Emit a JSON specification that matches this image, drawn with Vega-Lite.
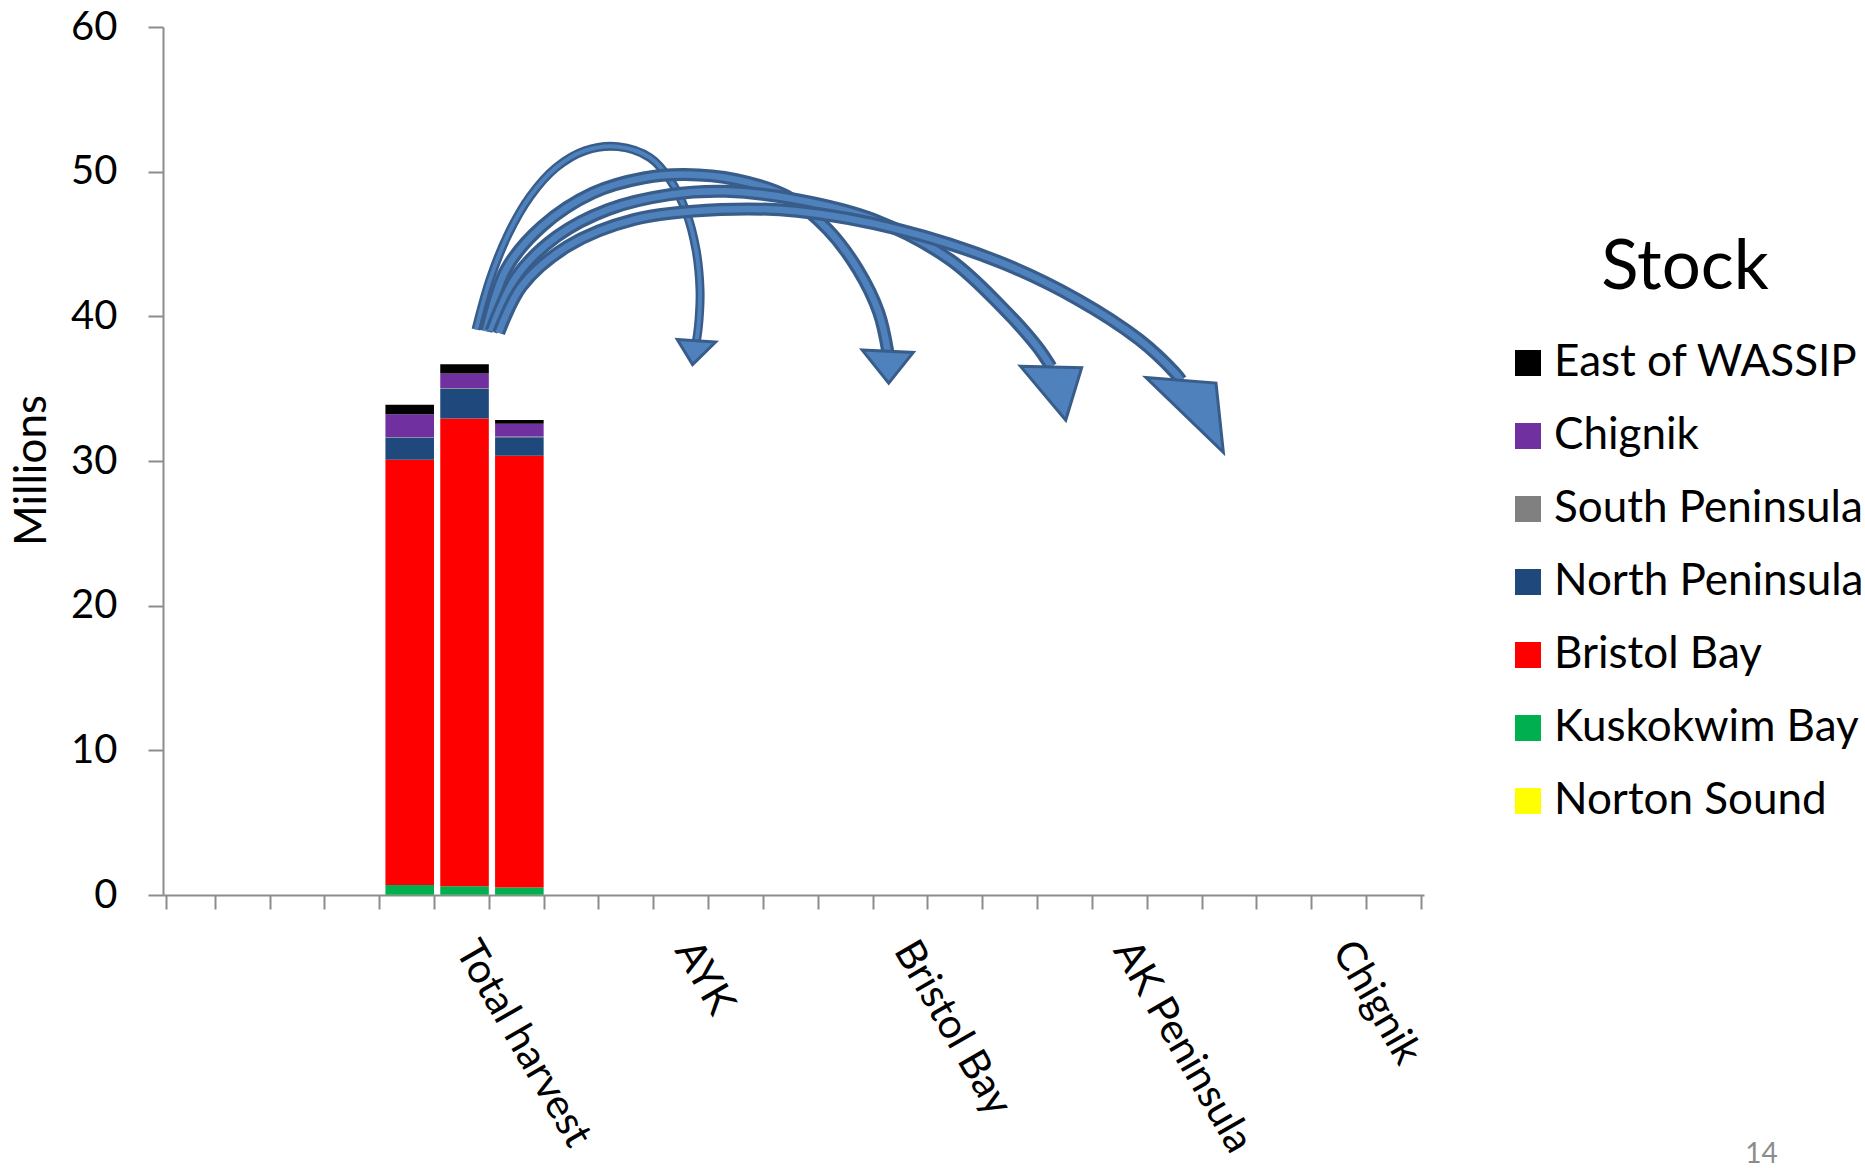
{
  "$schema": "https://vega.github.io/schema/vega-lite/v6.json",
  "width": 1261,
  "height": 868,
  "padding": {"left": 10, "top": 7, "right": 0, "bottom": 0},
  "background": "white",
  "config": {"font": "Lato", "view": {"stroke": null}, "axis": {"grid": false}},
  "datasets": {
    "harvest": [
      {"slot": "Total harvest|1", "stock": "Norton Sound", "value": 0.01},
      {"slot": "Total harvest|1", "stock": "Kuskokwim Bay", "value": 0.68},
      {"slot": "Total harvest|1", "stock": "Bristol Bay", "value": 29.39},
      {"slot": "Total harvest|1", "stock": "North Peninsula", "value": 1.52},
      {"slot": "Total harvest|1", "stock": "South Peninsula", "value": 0.05},
      {"slot": "Total harvest|1", "stock": "Chignik", "value": 1.58},
      {"slot": "Total harvest|1", "stock": "East of WASSIP", "value": 0.65},
      {"slot": "Total harvest", "stock": "Norton Sound", "value": 0.01},
      {"slot": "Total harvest", "stock": "Kuskokwim Bay", "value": 0.60},
      {"slot": "Total harvest", "stock": "Bristol Bay", "value": 32.33},
      {"slot": "Total harvest", "stock": "North Peninsula", "value": 2.05},
      {"slot": "Total harvest", "stock": "South Peninsula", "value": 0.05},
      {"slot": "Total harvest", "stock": "Chignik", "value": 1.01},
      {"slot": "Total harvest", "stock": "East of WASSIP", "value": 0.63},
      {"slot": "Total harvest|3", "stock": "Norton Sound", "value": 0.01},
      {"slot": "Total harvest|3", "stock": "Kuskokwim Bay", "value": 0.51},
      {"slot": "Total harvest|3", "stock": "Bristol Bay", "value": 29.85},
      {"slot": "Total harvest|3", "stock": "North Peninsula", "value": 1.27},
      {"slot": "Total harvest|3", "stock": "South Peninsula", "value": 0.05},
      {"slot": "Total harvest|3", "stock": "Chignik", "value": 0.88},
      {"slot": "Total harvest|3", "stock": "East of WASSIP", "value": 0.27}
    ],
    "arrows": [
      {"arrow": "AYK", "i": 0, "u": 5.709, "v": 39.09},
      {"arrow": "AYK", "i": 1, "u": 5.964, "v": 42.54},
      {"arrow": "AYK", "i": 2, "u": 6.293, "v": 45.65},
      {"arrow": "AYK", "i": 3, "u": 6.694, "v": 48.28},
      {"arrow": "AYK", "i": 4, "u": 7.168, "v": 50.28},
      {"arrow": "AYK", "i": 5, "u": 7.697, "v": 51.45},
      {"arrow": "AYK", "i": 6, "u": 8.299, "v": 51.73},
      {"arrow": "AYK", "i": 7, "u": 8.883, "v": 50.97},
      {"arrow": "AYK", "i": 8, "u": 9.247, "v": 49.45},
      {"arrow": "AYK", "i": 9, "u": 9.539, "v": 47.24},
      {"arrow": "AYK", "i": 10, "u": 9.722, "v": 44.61},
      {"arrow": "AYK", "i": 11, "u": 9.795, "v": 41.85},
      {"arrow": "AYK", "i": 12, "u": 9.777, "v": 39.78},
      {"arrow": "AYK", "i": 13, "u": 9.729, "v": 38.31},
      {"arrow": "Bristol Bay", "i": 0, "u": 5.891, "v": 38.97},
      {"arrow": "Bristol Bay", "i": 1, "u": 6.256, "v": 43.23},
      {"arrow": "Bristol Bay", "i": 2, "u": 6.913, "v": 46.22},
      {"arrow": "Bristol Bay", "i": 3, "u": 7.843, "v": 48.53},
      {"arrow": "Bristol Bay", "i": 4, "u": 8.773, "v": 49.57},
      {"arrow": "Bristol Bay", "i": 5, "u": 9.521, "v": 49.80},
      {"arrow": "Bristol Bay", "i": 6, "u": 10.451, "v": 49.45},
      {"arrow": "Bristol Bay", "i": 7, "u": 11.381, "v": 48.30},
      {"arrow": "Bristol Bay", "i": 8, "u": 12.126, "v": 46.00},
      {"arrow": "Bristol Bay", "i": 9, "u": 12.676, "v": 43.23},
      {"arrow": "Bristol Bay", "i": 10, "u": 13.056, "v": 40.26},
      {"arrow": "Bristol Bay", "i": 11, "u": 13.218, "v": 37.59},
      {"arrow": "AK Peninsula", "i": 0, "u": 5.983, "v": 38.97},
      {"arrow": "AK Peninsula", "i": 1, "u": 6.448, "v": 42.77},
      {"arrow": "AK Peninsula", "i": 2, "u": 7.186, "v": 45.53},
      {"arrow": "AK Peninsula", "i": 3, "u": 8.117, "v": 47.38},
      {"arrow": "AK Peninsula", "i": 4, "u": 9.240, "v": 48.41},
      {"arrow": "AK Peninsula", "i": 5, "u": 10.263, "v": 48.64},
      {"arrow": "AK Peninsula", "i": 6, "u": 11.564, "v": 48.07},
      {"arrow": "AK Peninsula", "i": 7, "u": 12.963, "v": 46.69},
      {"arrow": "AK Peninsula", "i": 8, "u": 14.354, "v": 43.92},
      {"arrow": "AK Peninsula", "i": 9, "u": 15.285, "v": 40.70},
      {"arrow": "AK Peninsula", "i": 10, "u": 15.941, "v": 37.93},
      {"arrow": "AK Peninsula", "i": 11, "u": 16.197, "v": 36.50},
      {"arrow": "Chignik", "i": 0, "u": 6.123, "v": 38.86},
      {"arrow": "Chignik", "i": 1, "u": 6.541, "v": 42.08},
      {"arrow": "Chignik", "i": 2, "u": 7.380, "v": 44.84},
      {"arrow": "Chignik", "i": 3, "u": 8.591, "v": 46.69},
      {"arrow": "Chignik", "i": 4, "u": 10.170, "v": 47.38},
      {"arrow": "Chignik", "i": 5, "u": 11.564, "v": 47.26},
      {"arrow": "Chignik", "i": 6, "u": 13.424, "v": 46.00},
      {"arrow": "Chignik", "i": 7, "u": 15.285, "v": 43.72},
      {"arrow": "Chignik", "i": 8, "u": 16.685, "v": 41.16},
      {"arrow": "Chignik", "i": 9, "u": 17.802, "v": 38.40},
      {"arrow": "Chignik", "i": 10, "u": 18.453, "v": 36.12},
      {"arrow": "Chignik", "i": 11, "u": 18.568, "v": 35.58}
    ],
    "heads": [
      {"arrow": "AYK", "u": 9.729, "v": 38.31},
      {"arrow": "Bristol Bay", "u": 13.218, "v": 37.59},
      {"arrow": "AK Peninsula", "u": 16.197, "v": 36.50},
      {"arrow": "Chignik", "u": 18.568, "v": 35.58}
    ]
  },
  "layer": [
    {
      "data": {"name": "harvest"},
      "transform": [
        {"calculate": "indexof(['Norton Sound','Kuskokwim Bay','Bristol Bay','North Peninsula','South Peninsula','Chignik','East of WASSIP'], datum.stock)", "as": "stackOrder"}
      ],
      "mark": {"type": "bar"},
      "encoding": {
        "x": {
          "field": "slot", "type": "nominal", "sort": null,
          "scale": {
            "domain": ["|a0", "|b0", "|c0", "|gap0", "Total harvest|1", "Total harvest", "Total harvest|3", "|gap1", "AYK|1", "AYK", "AYK|3", "|gap2", "Bristol Bay|1", "Bristol Bay", "Bristol Bay|3", "|gap3", "AK Peninsula|1", "AK Peninsula", "AK Peninsula|3", "|gap4", "Chignik|1", "Chignik", "Chignik|3"],
            "paddingInner": 0.114, "paddingOuter": 0.057
          },
          "axis": {
            "title": "14", "titleX": 1598, "titleY": 267, "titleAlign": "center", "titleBaseline": "alphabetic",
            "titleFontSize": 28, "titleColor": "#8c8c8c", "titleFontWeight": "normal", "titleFont": "Lato",
            "labelExpr": "isString(datum.value) && indexof(datum.value, '|') < 0 ? datum.value : ''",
            "labelAngle": 60, "labelLimit": 1000,
            "labelFontSize": 41, "labelFont": "Lato", "labelColor": "#000000", "labelPadding": 35,
            "tickBand": "extent",
            "tickSize": 14, "tickColor": "#8c8c8c", "tickWidth": 2,
            "domainColor": "#8c8c8c", "domainWidth": 2
          }
        },
        "y": {
          "field": "value", "type": "quantitative", "stack": "zero",
          "scale": {"domain": [0, 60], "nice": false},
          "axis": {
            "title": "Millions", "values": [0, 10, 20, 30, 40, 50, 60],
            "labelFontSize": 40, "labelFont": "Lato", "labelColor": "#000000", "labelPadding": 31,
            "tickSize": 15, "tickColor": "#8c8c8c", "tickWidth": 2,
            "domainColor": "#8c8c8c", "domainWidth": 2,
            "titleFontSize": 44, "titleFont": "Lato", "titleFontWeight": "normal", "titleColor": "#000000",
            "titleAngle": -90, "titleX": -131, "titleY": 443, "titleAlign": "center", "titleBaseline": "middle"
          }
        },
        "color": {
          "field": "stock", "type": "nominal",
          "scale": {
            "domain": ["East of WASSIP", "Chignik", "South Peninsula", "North Peninsula", "Bristol Bay", "Kuskokwim Bay", "Norton Sound"],
            "range": ["#000000", "#7030A0", "#808080", "#1F497D", "#FF0000", "#00B050", "#FFFF00"]
          },
          "legend": {
            "title": "Stock", "orient": "none", "legendX": 1343, "legendY": 207, "padding": 0,
            "symbolType": "square", "symbolSize": 676, "symbolStrokeWidth": 0, "symbolOpacity": 1,
            "labelFont": "Lato", "labelFontSize": 44, "labelColor": "#000000", "labelLimit": 1000, "labelOffset": 4,
            "rowPadding": 29,
            "titleFont": "Lato", "titleFontSize": 69, "titleFontWeight": "normal", "titleColor": "#000000",
            "titleAnchor": "middle", "titlePadding": 38
          }
        },
        "order": {"field": "stackOrder", "type": "quantitative"}
      }
    },
    {
      "data": {"name": "arrows"},
      "transform": [{"filter": "datum.arrow === 'AYK'"}],
      "encoding": {
        "x": {"field": "u", "type": "quantitative", "scale": {"domain": [0, 23], "nice": false, "zero": false}, "axis": null},
        "y": {"field": "v", "type": "quantitative", "scale": {"domain": [0, 60], "nice": false}, "axis": null},
        "order": {"field": "i", "type": "quantitative"}
      },
      "layer": [
        {"mark": {"type": "line", "interpolate": "catmull-rom", "stroke": "#385D8A", "strokeWidth": 9}},
        {"mark": {"type": "line", "interpolate": "catmull-rom", "stroke": "#4F81BD", "strokeWidth": 4}}
      ]
    },
    {
      "data": {"name": "arrows"},
      "transform": [{"filter": "datum.arrow === 'Bristol Bay'"}],
      "encoding": {
        "x": {"field": "u", "type": "quantitative", "scale": {"domain": [0, 23], "nice": false, "zero": false}, "axis": null},
        "y": {"field": "v", "type": "quantitative", "scale": {"domain": [0, 60], "nice": false}, "axis": null},
        "order": {"field": "i", "type": "quantitative"}
      },
      "layer": [
        {"mark": {"type": "line", "interpolate": "catmull-rom", "stroke": "#385D8A", "strokeWidth": 13}},
        {"mark": {"type": "line", "interpolate": "catmull-rom", "stroke": "#4F81BD", "strokeWidth": 6.5}}
      ]
    },
    {
      "data": {"name": "arrows"},
      "transform": [{"filter": "datum.arrow === 'AK Peninsula'"}],
      "encoding": {
        "x": {"field": "u", "type": "quantitative", "scale": {"domain": [0, 23], "nice": false, "zero": false}, "axis": null},
        "y": {"field": "v", "type": "quantitative", "scale": {"domain": [0, 60], "nice": false}, "axis": null},
        "order": {"field": "i", "type": "quantitative"}
      },
      "layer": [
        {"mark": {"type": "line", "interpolate": "catmull-rom", "stroke": "#385D8A", "strokeWidth": 13}},
        {"mark": {"type": "line", "interpolate": "catmull-rom", "stroke": "#4F81BD", "strokeWidth": 6.5}}
      ]
    },
    {
      "data": {"name": "arrows"},
      "transform": [{"filter": "datum.arrow === 'Chignik'"}],
      "encoding": {
        "x": {"field": "u", "type": "quantitative", "scale": {"domain": [0, 23], "nice": false, "zero": false}, "axis": null},
        "y": {"field": "v", "type": "quantitative", "scale": {"domain": [0, 60], "nice": false}, "axis": null},
        "order": {"field": "i", "type": "quantitative"}
      },
      "layer": [
        {"mark": {"type": "line", "interpolate": "catmull-rom", "stroke": "#385D8A", "strokeWidth": 13}},
        {"mark": {"type": "line", "interpolate": "catmull-rom", "stroke": "#4F81BD", "strokeWidth": 6.5}}
      ]
    },
    {
      "data": {"name": "heads"},
      "mark": {"type": "point", "filled": true, "opacity": 1, "fill": "#4F81BD", "stroke": "#385D8A", "strokeWidth": 3},
      "encoding": {
        "x": {"field": "u", "type": "quantitative", "scale": {"domain": [0, 23], "nice": false, "zero": false}, "axis": null},
        "y": {"field": "v", "type": "quantitative", "scale": {"domain": [0, 60], "nice": false}, "axis": null},
        "shape": {
          "field": "arrow", "type": "nominal", "legend": null,
          "scale": {
            "domain": ["AYK", "Bristol Bay", "AK Peninsula", "Chignik"],
            "range": ["M-1,-0.07L1,0.07L-0.2,1.24Z", "M-1,-0.05L1,0.05L0.04,1.25Z", "M-1,-0.025L1,0.025L0.48,1.74Z", "M-1,-0.08L1,0.08L1.21,2.06Z"]
          }
        },
        "size": {
          "field": "arrow", "type": "ordinal", "legend": null,
          "scale": {"domain": ["AYK", "Bristol Bay", "AK Peninsula", "Chignik"], "range": [1467, 4900, 4096, 4096]}
        }
      }
    }
  ],
  "resolve": {"scale": {"x": "independent"}, "axis": {"x": "independent", "y": "independent"}}
}
